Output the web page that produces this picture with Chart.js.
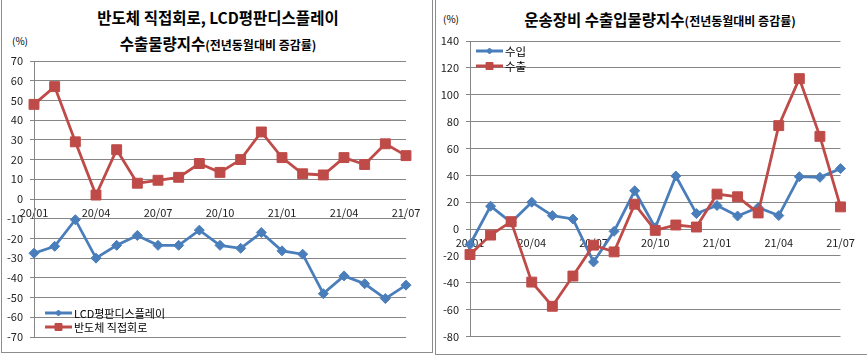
<!DOCTYPE html>
<html><head><meta charset="utf-8">
<script src="https://cdn.jsdelivr.net/npm/chart.js@4.4.1/dist/chart.umd.min.js"></script>
<style>
html,body{margin:0;padding:0;background:#fff;}
body{width:867px;height:357px;overflow:hidden;position:relative;font-family:"Noto Sans CJK KR","Noto Sans",sans-serif;color:#000;}
.panel{position:absolute;box-sizing:border-box;border:1px solid #8c8c8c;border-top:none;}
.cv{position:absolute;top:0;}
.t{position:absolute;white-space:nowrap;text-align:center;font-weight:bold;line-height:1;}
.pct{position:absolute;font-size:10px;line-height:1;white-space:nowrap;}
</style></head>
<body>
<div class="panel" style="left:1px;top:0;width:432px;height:353px;"></div>
<div class="panel" style="left:435px;top:0;width:433px;height:355px;"></div>

<div class="t" style="left:0;width:436px;top:10px;font-size:15.5px;">반도체 직접회로, LCD평판디스플레이</div>
<div class="t" style="left:0;width:436px;top:36px;font-size:15.5px;">수출물량지수<span style="font-size:12px;">(전년동월대비 증감률)</span></div>
<div class="pct" style="left:12px;top:36px;">(%)</div>

<div class="t" style="left:435px;width:450px;top:12px;font-size:15.5px;">운송장비 수출입물량지수<span style="font-size:12px;">(전년동월대비 증감률)</span></div>
<div class="pct" style="left:443px;top:14px;">(%)</div>

<div class="cv" style="left:0;width:432px;height:352px;"><canvas id="c1" width="432" height="352"></canvas></div>
<div class="cv" style="left:435px;width:432px;height:355px;"><canvas id="c2" width="432" height="355"></canvas></div>

<script>
// ---- data ----
const months = ['20/01','20/02','20/03','20/04','20/05','20/06','20/07','20/08','20/09','20/10','20/11','20/12','21/01','21/02','21/03','21/04','21/05','21/06','21/07'];
const lcdPanel = [-27.5,-24,-10.5,-30,-23.5,-18.5,-23.5,-23.5,-15.8,-23.5,-25,-17,-26.3,-28,-48,-39,-43,-50.5,-43.7];
const semiconductor = [48,57,29,2,25,8,9.5,11,18,13.5,20,34,21,12.8,12.2,21,17.5,28,22];
const transImport = [-11.5,17,5,20,10,7.5,-24.5,-1.7,28.5,1,39.5,11.5,17.5,9.7,16,10,39,38.5,45];
const transExport = [-19,-4.5,5.5,-39.5,-57.5,-35,-12,-17,18.5,-1,3,1.5,26,24,12,77,112,69,16.5];
const leftTicks = {min:-70, max:70, step:10};
const rightTicks = {min:-80, max:140, step:20};

const BLUE = '#4A7EBB', RED = '#BE4B48', GRID = '#868686';
const FONT = '"Noto Sans CJK KR","Noto Sans",sans-serif';

function marker(ctx, style, x, y, r, color){
  ctx.save();
  ctx.fillStyle = color; ctx.strokeStyle = color; ctx.lineWidth = 1;
  ctx.beginPath();
  if (style === 'rect') { ctx.rect(x - r, y - r, 2*r, 2*r); }
  else { ctx.moveTo(x, y - r); ctx.lineTo(x + r, y); ctx.lineTo(x, y + r); ctx.lineTo(x - r, y); ctx.closePath(); }
  ctx.fill(); ctx.stroke();
  ctx.restore();
}

const xlLegend = {
  id: 'xlLegend',
  afterDraw(chart, args, o) {
    const ctx = chart.ctx;
    o.items.forEach(it => {
      ctx.save();
      ctx.strokeStyle = it.color; ctx.lineWidth = 3;
      ctx.beginPath(); ctx.moveTo(o.x, it.y); ctx.lineTo(o.x + o.len, it.y); ctx.stroke();
      marker(ctx, it.style, o.x + o.len/2, it.y, it.r, it.color);
      ctx.fillStyle = '#000';
      ctx.font = o.fontSize + 'px ' + FONT;
      ctx.textBaseline = 'middle'; ctx.textAlign = 'left';
      ctx.fillText(it.text, o.x + o.len + 2, it.y + 0.5);
      ctx.restore();
    });
  }
};

function makeChart(id, datasets, t, pad, yWidth, legend) {
  return new Chart(document.getElementById(id), {
    type: 'line',
    data: { labels: months, datasets },
    plugins: [xlLegend],
    options: {
      responsive: false,
      animation: false,
      layout: { padding: pad },
      plugins: { legend: {display:false}, tooltip: {enabled:false}, title:{display:false}, xlLegend: legend },
      elements: { line: { tension: 0, borderWidth: 2.8 } },
      scales: {
        x: {
          type: 'category',
          position: { y: 0 },
          offset: false,
          grid: { display: false, drawTicks: false },
          border: { display: false },
          ticks: {
            autoSkip: false, maxRotation: 0, minRotation: 0, padding: 7,
            color: '#222', font: { family: FONT, size: 11 },
            callback: (v, i) => (i % 3 === 0 ? months[i] : '')
          }
        },
        y: {
          min: t.min, max: t.max,
          afterFit: s => { s.width = yWidth; },
          grid: { color: GRID, lineWidth: 1, drawTicks: true, tickLength: 4, tickColor: GRID },
          border: { display: true, color: GRID, width: 1 },
          ticks: { stepSize: t.step, padding: 7, color: '#222', font: { family: FONT, size: 11 } }
        }
      }
    }
  });
}

makeChart('c1', [
  { label: 'LCD평판디스플레이', data: lcdPanel, borderColor: BLUE, backgroundColor: BLUE, pointStyle: 'rectRot', pointRadius: 5, pointBorderWidth: 1, order: 1 },
  { label: '반도체 직접회로', data: semiconductor, borderColor: RED, backgroundColor: RED, pointStyle: 'rect', pointRadius: 7, pointBorderWidth: 1, order: 0 }
], leftTicks, { left: 0, right: 26, top: 61, bottom: 15 }, 34,
{ x: 45, len: 27, fontSize: 11, items: [
  { text: 'LCD평판디스플레이', color: BLUE, style: 'diamond', r: 3, y: 313 },
  { text: '반도체 직접회로', color: RED, style: 'rect', r: 3.5, y: 327 }
]});

makeChart('c2', [
  { label: '수입', data: transImport, borderColor: BLUE, backgroundColor: BLUE, pointStyle: 'rectRot', pointRadius: 5, pointBorderWidth: 1, order: 1 },
  { label: '수출', data: transExport, borderColor: RED, backgroundColor: RED, pointStyle: 'rect', pointRadius: 7, pointBorderWidth: 1, order: 0 }
], rightTicks, { left: 0, right: 26.5, top: 41, bottom: 18.5 }, 35,
{ x: 41, len: 27, fontSize: 11.5, items: [
  { text: '수입', color: BLUE, style: 'diamond', r: 3, y: 51 },
  { text: '수출', color: RED, style: 'rect', r: 3.5, y: 66 }
]});
</script>
</body></html>
